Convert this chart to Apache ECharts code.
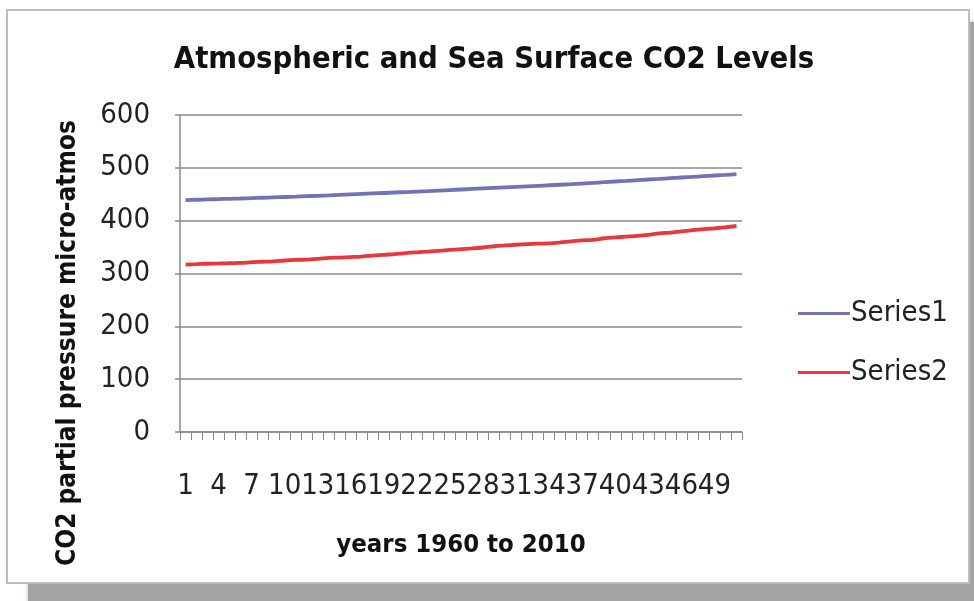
<!DOCTYPE html>
<html>
<head>
<meta charset="utf-8">
<script src="https://cdn.jsdelivr.net/npm/echarts@6/dist/echarts.min.js"></script>
<style>
  html, body { margin: 0; padding: 0; background: #ffffff; }
  #chart { width: 974px; height: 601px; }
</style>
</head>
<body>
<div id="chart"></div>
<script>
// Year index 1..51 (1960 to 2010)
const years = [];
for (let i = 1; i <= 51; i++) years.push(String(i));

// Atmospheric CO2 (Series1)
const series1 = [
  439.0, 439.6, 440.2, 440.8, 441.4, 442.0, 442.7, 443.4, 444.1, 444.8,
  445.5, 446.3, 447.1, 447.9, 448.8, 449.7, 450.6, 451.5, 452.4, 453.3,
  454.2, 455.1, 456.0, 457.0, 458.0, 459.0, 460.0, 461.0, 462.0, 463.0,
  464.0, 465.0, 466.0, 467.0, 468.0, 469.0, 470.3, 471.5, 472.8, 474.1,
  475.3, 476.6, 477.9, 479.1, 480.4, 481.7, 482.9, 484.2, 485.5, 486.7,
  488.0
];

// Sea surface CO2 (Series2)
const series2 = [
  316.9, 317.6, 318.5, 319.0, 319.6, 320.0, 321.4, 322.2, 323.0, 324.6,
  325.7, 326.3, 327.5, 329.7, 330.2, 331.1, 332.1, 333.8, 335.4, 336.8,
  338.7, 340.1, 341.4, 343.0, 344.6, 346.0, 347.4, 349.2, 351.6, 353.1,
  354.4, 355.6, 356.4, 357.1, 358.8, 360.8, 362.6, 363.7, 366.7, 368.4,
  369.6, 371.1, 373.2, 375.8, 377.5, 379.8, 381.9, 383.8, 385.6, 387.4,
  389.9
];

const seriesNames = ['Series1', 'Series2'];
const colors = ['#7074b6', '#e8383c'];

const FONT = '"DejaVu Sans Condensed", "Liberation Sans", sans-serif';

const chart = echarts.init(document.getElementById('chart'), null, { renderer: 'canvas' });

chart.setOption({
  animation: false,
  backgroundColor: '#ffffff',
  graphic: [
    {
      // drop shadow behind the card
      type: 'rect',
      z: -11,
      shape: { x: 28, y: 22, width: 960, height: 590 },
      style: { fill: '#a3a3a3', shadowColor: 'rgba(150,150,150,0.6)', shadowBlur: 4 }
    },
    {
      type: 'rect',
      z: -10,
      shape: { x: 7, y: 10, width: 962, height: 573 },
      style: { fill: '#ffffff', stroke: '#bdbdbd', lineWidth: 2 }
    },
    {
      type: 'text',
      x: 68,
      y: 343,
      rotation: Math.PI / 2,
      style: {
        text: 'CO2 partial pressure micro-atmos',
        font: 'bold 26px ' + FONT,
        fill: '#111111',
        align: 'center',
        verticalAlign: 'middle'
      }
    }
  ],
  title: {
    text: 'Atmospheric and Sea Surface CO2 Levels',
    left: 489,
    textAlign: 'center',
    top: 40,
    textStyle: { fontFamily: FONT, fontWeight: 'bold', fontSize: 30.7, color: '#111111' }
  },
  legend: {
    orient: 'vertical',
    left: 793,
    top: 294,
    itemWidth: 52,
    itemHeight: 3,
    itemGap: 30,
    icon: 'rect',
    data: seriesNames,
    textStyle: { fontFamily: FONT, fontSize: 29, color: '#222222', padding: [0, 0, 0, -4] }
  },
  grid: { left: 180, right: 232, top: 115, bottom: 169, containLabel: false },
  xAxis: {
    type: 'category',
    data: years,
    boundaryGap: true,
    name: 'years 1960 to 2010',
    nameLocation: 'middle',
    nameGap: 100,
    nameTextStyle: { fontFamily: FONT, fontWeight: 'bold', fontSize: 25.5, color: '#111111' },
    axisLine: { show: true, lineStyle: { color: '#8a8a8a', width: 1.5 } },
    axisTick: { show: true, interval: 0, length: 8, lineStyle: { color: '#8a8a8a', width: 1 } },
    axisLabel: {
      interval: 0,
      formatter: (value, index) => (index % 3 === 0 ? value : ''),
      margin: 40, showMaxLabel: true, showMinLabel: true, hideOverlap: false,
      fontFamily: FONT, fontSize: 29, color: '#222222'
    },
    splitLine: { show: false }
  },
  yAxis: {
    type: 'value',
    min: 0,
    max: 600,
    interval: 100,
    axisLine: { show: true, lineStyle: { color: '#8a8a8a', width: 1.5 } },
    axisTick: { show: true, length: 5, lineStyle: { color: '#8a8a8a', width: 1.5 } },
    axisLabel: { margin: 30, fontFamily: FONT, fontSize: 29, color: '#222222' },
    splitLine: { show: true, lineStyle: { color: '#8a8a8a', width: 1.5 } }
  },
  series: [
    {
      name: seriesNames[0],
      type: 'line',
      data: series1,
      showSymbol: false,
      symbol: 'none',
      smooth: 0.3,
      lineStyle: { color: colors[0], width: 3.8 },
      itemStyle: { color: colors[0] }
    },
    {
      name: seriesNames[1],
      type: 'line',
      data: series2,
      showSymbol: false,
      symbol: 'none',
      smooth: 0.3,
      lineStyle: { color: colors[1], width: 3.8 },
      itemStyle: { color: colors[1] }
    }
  ]
});
</script>
</body>
</html>
